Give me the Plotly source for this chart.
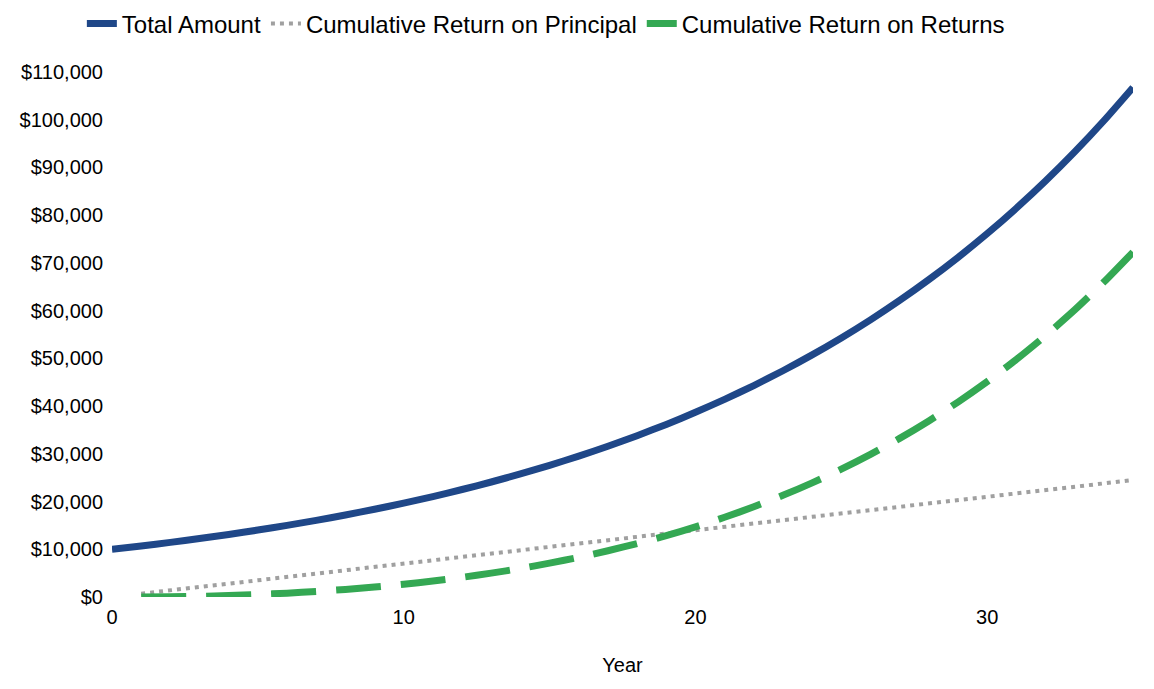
import plotly.graph_objects as go

years_total = list(range(0, 36))
total_amount = [10000, 10700, 11449, 12250, 13108, 14026, 15007, 16058, 17182, 18385,
                19672, 21049, 22522, 24098, 25785, 27590, 29522, 31588, 33799, 36165,
                38697, 41406, 44304, 47405, 50724, 54274, 58074, 62139, 66488, 71143,
                76123, 81451, 87153, 93253, 99781, 106766]

years_ret = list(range(1, 36))
return_principal = [700, 1400, 2100, 2800, 3500, 4200, 4900, 5600, 6300, 7000,
                    7700, 8400, 9100, 9800, 10500, 11200, 11900, 12600, 13300, 14000,
                    14700, 15400, 16100, 16800, 17500, 18200, 18900, 19600, 20300, 21000,
                    21700, 22400, 23100, 23800, 24500]
return_returns = [0, 49, 150, 308, 526, 807, 1158, 1582, 2085, 2672,
                  3349, 4122, 4998, 5985, 7090, 8322, 9688, 11199, 12865, 14697,
                  16706, 18904, 21305, 23924, 26774, 29874, 33239, 36888, 40843, 45123,
                  49751, 54753, 60153, 65981, 72266]

y_ticks = list(range(0, 110001, 10000))
y_tick_text = ["$" + f"{v:,}" for v in y_ticks]
x_ticks = [0, 10, 20, 30]

fig = go.Figure()
fig.add_trace(go.Scatter(x=years_total, y=total_amount, mode="lines",
                         name="Total Amount",
                         line=dict(color="#1f4788", width=7, shape="spline", smoothing=0.6)))
fig.add_trace(go.Scatter(x=years_ret, y=return_principal, mode="lines",
                         name="Cumulative Return on Principal",
                         line=dict(color="#a0a0a0", width=4, dash="4px,5px")))
fig.add_trace(go.Scatter(x=years_ret, y=return_returns, mode="lines",
                         name="Cumulative Return on Returns",
                         line=dict(color="#34a853", width=7, dash="45px,20px",
                                   shape="spline", smoothing=0.6)))

fig.update_layout(
    width=1154, height=689,
    paper_bgcolor="white", plot_bgcolor="white",
    margin=dict(l=101, r=29, t=64, b=100),
    font=dict(family="Liberation Sans, Arial, sans-serif", color="#000000", size=20),
    legend=dict(orientation="h", x=0.064, xanchor="left", xref="container",
                y=0.977, yanchor="middle", yref="container",
                font=dict(size=24), itemwidth=30, bgcolor="rgba(0,0,0,0)"),
    xaxis=dict(range=[0, 35], tickvals=x_ticks, showgrid=False, zeroline=False,
               showline=False, ticks="", tickfont=dict(size=20), ticklabelstandoff=6,
               title=dict(text="Year", font=dict(size=20), standoff=30)),
    yaxis=dict(range=[0, 110000], tickvals=y_ticks, ticktext=y_tick_text,
               showgrid=False, zeroline=False, showline=False, ticks="",
               tickfont=dict(size=20), ticklabelstandoff=8),
)

fig.write_html("out.html")
